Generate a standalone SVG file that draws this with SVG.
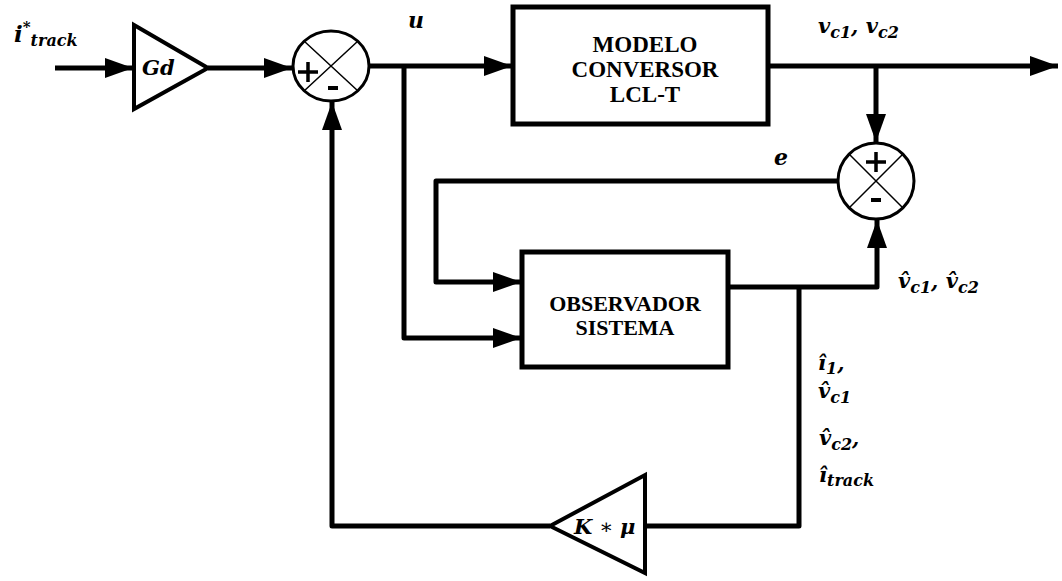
<svg xmlns="http://www.w3.org/2000/svg" width="1062" height="581" viewBox="0 0 1062 581">
<defs>
<marker id="arr" markerUnits="userSpaceOnUse" markerWidth="30" markerHeight="22" refX="28" refY="10" orient="auto">
<path d="M0,0 L28,10 L0,20 z" fill="#000"/>
</marker>
<style>
.ln{stroke:#000;stroke-width:5;fill:none;stroke-linejoin:round}
.blk{stroke:#000;stroke-width:5;fill:#fff}
.tri{stroke:#000;stroke-width:4;fill:#fff}
.sum{stroke:#000;stroke-width:3;fill:#fff}
.x{stroke:#000;stroke-width:1.5}
</style>
</defs>
<rect width="1062" height="581" fill="#fff"/>
<g id="connectors">
<path class="ln" d="M55,68 L133,68" marker-end="url(#arr)"/>
<path class="ln" d="M208,68 L292,68" marker-end="url(#arr)"/>
<path class="ln" d="M369,66 L512,66" marker-end="url(#arr)"/>
<path class="ln" d="M404,66 L404,338 L521,338" marker-end="url(#arr)"/>
<path class="ln" d="M768,66 L1058,66" marker-end="url(#arr)"/>
<path class="ln" d="M876,66 L876,142" marker-end="url(#arr)"/>
<path class="ln" d="M838,181 L436,181 L436,282 L521,282" marker-end="url(#arr)"/>
<path class="ln" d="M728,287 L877,287 L877,220" marker-end="url(#arr)"/>
<path class="ln" d="M799,287 L799,526 L645,526"/>
<path class="ln" d="M550,526 L332,526 L332,102" marker-end="url(#arr)"/>
</g>
<g id="gd">
<path class="tri" d="M134,25 L208,68 L134,109 z"/>
<text x="142" y="75" font-family="DejaVu Serif" font-weight="bold" font-style="italic" font-size="21">Gd</text>
</g>
<g id="sum1">
<ellipse class="sum" cx="331" cy="66" rx="38" ry="35"/>
<path class="x" d="M304,41 L358,91 M358,41 L304,91"/>
<path d="M298,72 H318 M308,62 V82" stroke="#000" stroke-width="3.5"/>
<path d="M328,88 H338" stroke="#000" stroke-width="4"/>
</g>
<g id="modelo">
<rect class="blk" x="513" y="7" width="255" height="117"/>
<text x="645" y="52" text-anchor="middle" font-family="Liberation Serif" font-weight="bold" font-size="23">MODELO</text>
<text x="645" y="77" text-anchor="middle" font-family="Liberation Serif" font-weight="bold" font-size="23">CONVERSOR</text>
<text x="645" y="102" text-anchor="middle" font-family="Liberation Serif" font-weight="bold" font-size="23">LCL-T</text>
</g>
<g id="sum2">
<circle class="sum" cx="876" cy="181" r="38"/>
<path class="x" d="M849,154 L903,208 M903,154 L849,208"/>
<path d="M866,162 H886 M876,152 V172" stroke="#000" stroke-width="3.5"/>
<path d="M871,200 H881" stroke="#000" stroke-width="4"/>
</g>
<g id="observador">
<rect class="blk" x="522" y="252" width="206" height="115"/>
<text x="625" y="311" text-anchor="middle" font-family="Liberation Serif" font-weight="bold" font-size="22">OBSERVADOR</text>
<text x="625" y="335" text-anchor="middle" font-family="Liberation Serif" font-weight="bold" font-size="22">SISTEMA</text>
</g>
<g id="kmu">
<path class="tri" d="M550,526 L645,475 L645,573 z"/>
<text x="574" y="534" font-family="DejaVu Serif" font-weight="bold" font-style="italic" font-size="21">K<tspan font-style="normal" font-weight="normal"> &#x2217; </tspan>&#x3BC;</text>
</g>
<g id="labels">
<text x="14" y="42" font-family="DejaVu Serif" font-weight="bold" font-style="italic" font-size="23">i<tspan font-size="15" dy="-10">*</tspan><tspan font-size="16" dy="14">track</tspan></text>
<text x="408" y="28" font-family="DejaVu Serif" font-weight="bold" font-style="italic" font-size="22">u</text>
<text x="774" y="165" font-family="DejaVu Serif" font-weight="bold" font-style="italic" font-size="22">e</text>
<text x="818" y="33" font-family="DejaVu Serif" font-weight="bold" font-style="italic" font-size="21">v<tspan font-size="16" dy="5">c1</tspan><tspan dy="-5">, v</tspan><tspan font-size="16" dy="5">c2</tspan></text>
<text x="898" y="288" font-family="DejaVu Serif" font-weight="bold" font-style="italic" font-size="21">v&#x302;<tspan font-size="16" dy="5">c1</tspan><tspan dy="-5">, v&#x302;</tspan><tspan font-size="16" dy="5">c2</tspan></text>
<text x="818" y="370" font-family="DejaVu Serif" font-weight="bold" font-style="italic" font-size="21">&#xEE;<tspan font-size="16" dy="4">1</tspan><tspan dy="-4">,</tspan></text>
<text x="818" y="398" font-family="DejaVu Serif" font-weight="bold" font-style="italic" font-size="21">v&#x302;<tspan font-size="16" dy="5">c1</tspan></text>
<text x="819" y="445" font-family="DejaVu Serif" font-weight="bold" font-style="italic" font-size="21">v&#x302;<tspan font-size="16" dy="5">c2</tspan><tspan dy="-5">,</tspan></text>
<text x="819" y="482" font-family="DejaVu Serif" font-weight="bold" font-style="italic" font-size="21">&#xEE;<tspan font-size="16" dy="4">track</tspan></text>
</g>
</svg>
